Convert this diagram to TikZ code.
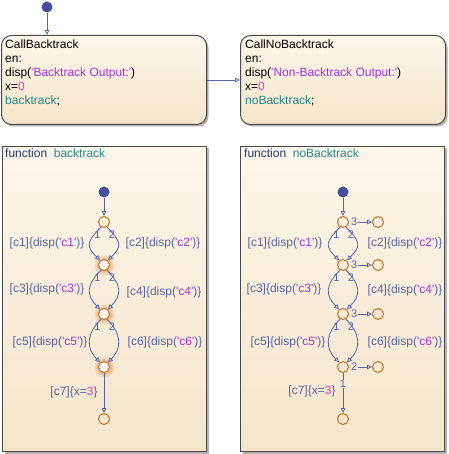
\documentclass[tikz,border=0pt]{standalone}
\usepackage{fontspec}
\setmainfont{Liberation Sans}
\usetikzlibrary{arrows.meta,shadows,fadings,calc,positioning}

\definecolor{edgecol}{HTML}{4A4A4A}
\definecolor{filltop}{HTML}{FDF6EA}
\definecolor{fillbot}{HTML}{F5E5CB}
\definecolor{fillmid}{HTML}{F8EBD6}
\definecolor{trcol}{HTML}{5565A8}
\definecolor{dotcol}{HTML}{434F9C}
\definecolor{junccol}{HTML}{CC6E1E}
\definecolor{strcol}{HTML}{A032EE}
\definecolor{numcol}{HTML}{E03AD0}
\definecolor{fncol}{HTML}{1F8A8A}
\definecolor{kwcol}{HTML}{1E3A6C}

\newcommand\q{\textquotesingle}
\newcommand\strc[1]{\textcolor{strcol}{#1}}
\newcommand\numc[1]{\textcolor{numcol}{#1}}
\newcommand\fnc[1]{\textcolor{fncol}{#1}}

\tikzfading[name=glowfade, inner color=transparent!0, outer color=transparent!100]

\begin{document}
\begin{tikzpicture}[
    x=1pt, y=-1pt,
    every node/.style={font=\fontsize{12}{14}\selectfont},
    chart/.style={draw=edgecol, line width=1pt, top color=filltop, bottom color=fillbot,
                  drop shadow={shadow xshift=2pt, shadow yshift=-2pt, fill=black!50, opacity=0.6},
                  anchor=north west, inner sep=0pt},
    statebox/.style={chart, rounded corners=10pt, minimum width=205pt, minimum height=89pt},
    funcbox/.style={chart, minimum width=204pt, minimum height=305pt},
    body/.style={anchor=north west, align=left, inner sep=0pt},
    dot/.style={circle, fill=dotcol, minimum size=11pt, inner sep=0pt},
    junc/.style={circle, draw=junccol, line width=1pt, minimum size=11pt, inner sep=0pt},
    hot/.style={junc, fill=white},
    trans/.style={draw=trcol, line width=0.8pt, -{Triangle[open, length=5pt, width=4.5pt]}},
    lbl/.style={text=trcol, inner sep=1pt},
    order/.style={text=trcol, inner sep=0.5pt, font=\fontsize{11}{12}\selectfont}
  ]
  \useasboundingbox[fill=white] (0,0) rectangle (448,454);

  % States
  \node[statebox] (callbt)   at (1,35)   {};
  \node[statebox] (callnobt) at (240,35) {};
  \node[body] at (5,39.5)
    {CallBacktrack\\en:\\disp(\strc{\q Backtrack Output:\q})\\x=\numc{0}\\\fnc{backtrack};};
  \node[body] at (245,39.5)
    {CallNoBacktrack\\en:\\disp(\strc{\q Non-Backtrack Output:\q})\\x=\numc{0}\\\fnc{noBacktrack};};

  % Default transition and state transition
  \node[dot] (topdot) at (47,7) {};
  \draw[trans] (topdot) -- (topdot |- callbt.north);
  \draw[trans] (callbt.east) -- (callnobt.west);

  % Graphical functions
  \node[funcbox] (fbt)   at (2,146)   {};
  \node[funcbox] (fnobt) at (240,146) {};
  \node[body] at (5,148.5)   {\textcolor{kwcol}{function}\hspace{0.55em}\fnc{backtrack}};
  \node[body] at (244,148.5) {\textcolor{kwcol}{function}\hspace{0.55em}\fnc{noBacktrack}};

  % Glow on the visited junctions
  \foreach \y in {265,314,367}{
    \fill[junccol!85, path fading=glowfade] (104,\y) circle (11pt);
  }

  % Junctions of backtrack
  \node[dot] (ldot) at (104,192) {};
  \node[junc] (lj1) at (104,222) {};
  \node[hot]  (lj2) at (104,265) {};
  \node[hot]  (lj3) at (104,314) {};
  \node[hot]  (lj4) at (104,367) {};
  \node[junc] (lj5) at (104,419) {};

  % Junctions of noBacktrack
  \node[dot] (rdot) at (343,192) {};
  \foreach \n/\y in {1/222,2/265,3/314,4/367,5/419}{
    \node[junc] (rj\n) at (343,\y) {};
  }
  \foreach \n/\y/\o in {1/222/3,2/265/3,3/314/3,4/367/2}{
    \node[junc] (rx\n) at (378,\y) {};
    \node[order, right=1.5pt of rj\n] (ro\n) {\o};
    \draw[trans] (ro\n) -- (rx\n);
  }

  % Transitions
  \draw[trans] (ldot) -- (lj1);
  \draw[trans] (rdot) -- (rj1);
  \foreach \s in {l,r}{
    \foreach \a/\b in {1/2,2/3,3/4}{
      \draw[trans] (\s j\a.240) .. controls +(-15,15) and +(-14,-14) .. (\s j\b.130);
      \draw[trans] (\s j\a.300) .. controls +(15,15) and +(14,-14) .. (\s j\b.50);
      \node[order] (\s o\a a) at ($(\s j\a)+(-6.5,13)$) {1};
      \node[order] (\s o\a b) at ($(\s j\a)+(8,13)$) {2};
    }
  }
  \draw[trans] (lj4) -- (lj5);
  \draw[trans] (rj4) -- node[order, fill=fillmid, pos=0.28] (ro5) {1} (rj5);

  % Transition labels of backtrack
  \node[lbl] (lc1) at (47,243)  {[c1]\{disp(\strc{\q c1\q})\}};
  \node[lbl] (lc2) at (163,243) {[c2]\{disp(\strc{\q c2\q})\}};
  \node[lbl] (lc3) at (47,289)  {[c3]\{disp(\strc{\q c3\q})\}};
  \node[lbl] (lc4) at (164,292) {[c4]\{disp(\strc{\q c4\q})\}};
  \node[lbl] (lc5) at (50,342)  {[c5]\{disp(\strc{\q c5\q})\}};
  \node[lbl] (lc6) at (165,342) {[c6]\{disp(\strc{\q c6\q})\}};
  \node[lbl] (lc7) at (74,392)  {[c7]\{x=\numc{3}\}};

  % Transition labels of noBacktrack
  \node[lbl] (rc1) at (285,243) {[c1]\{disp(\strc{\q c1\q})\}};
  \node[lbl] (rc2) at (405,243) {[c2]\{disp(\strc{\q c2\q})\}};
  \node[lbl] (rc3) at (284,289) {[c3]\{disp(\strc{\q c3\q})\}};
  \node[lbl] (rc4) at (405,290) {[c4]\{disp(\strc{\q c4\q})\}};
  \node[lbl] (rc5) at (288,342) {[c5]\{disp(\strc{\q c5\q})\}};
  \node[lbl] (rc6) at (405,342) {[c6]\{disp(\strc{\q c6\q})\}};
  \node[lbl] (rc7) at (312,391) {[c7]\{x=\numc{3}\}};
\end{tikzpicture}
\end{document}
